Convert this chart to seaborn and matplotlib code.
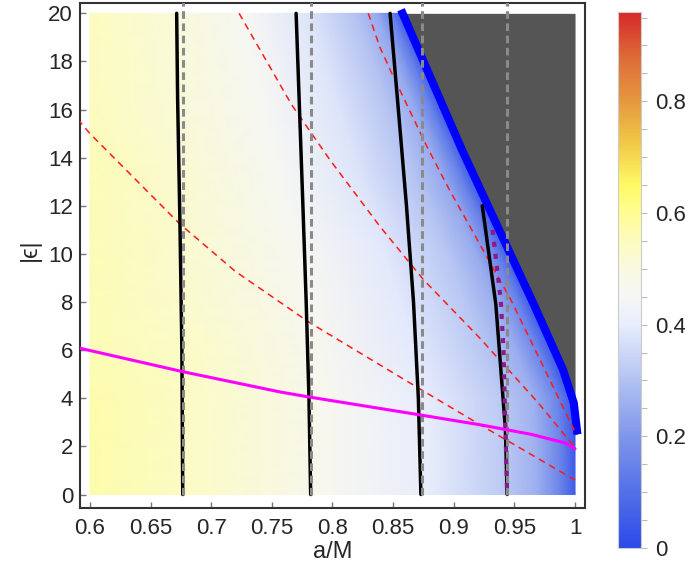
import numpy as np
import seaborn as sns
import matplotlib.pyplot as plt
from matplotlib.colors import LinearSegmentedColormap
from matplotlib.ticker import MultipleLocator

# ---- data ----
# density values, rows = |eps| levels, columns = fraction of the way from a/M=0.6 to the boundary
field_eps = np.array([0, 2.5, 4, 6, 8, 10, 13, 16, 20])
field_t = np.array([0.0, 0.25, 0.5, 0.7, 0.85, 0.92, 0.97, 1.0])
field = np.array([
    [0.57, 0.53, 0.46, 0.40, 0.32, 0.26, 0.15, 0.05],
    [0.57, 0.53, 0.46, 0.40, 0.32, 0.26, 0.15, 0.04],
    [0.57, 0.53, 0.46, 0.40, 0.32, 0.26, 0.15, 0.03],
    [0.56, 0.53, 0.46, 0.39, 0.31, 0.25, 0.14, 0.03],
    [0.56, 0.52, 0.46, 0.39, 0.31, 0.25, 0.14, 0.03],
    [0.56, 0.52, 0.46, 0.39, 0.31, 0.25, 0.14, 0.03],
    [0.56, 0.52, 0.45, 0.38, 0.30, 0.24, 0.13, 0.03],
    [0.55, 0.51, 0.45, 0.38, 0.30, 0.24, 0.13, 0.03],
    [0.55, 0.51, 0.45, 0.38, 0.30, 0.24, 0.13, 0.03],
])

# excluded region boundary (thick blue line)
bnd_a = np.array([0.8565, 0.907, 0.966, 0.990, 0.999, 1.002])
bnd_eps = np.array([20.15, 14.3, 7.9, 5.2, 3.8, 2.5])

# black curves
black_1_a = [0.6715, 0.6723, 0.6742, 0.6758, 0.6765]
black_1_eps = [20, 16.4, 11.3, 6.0, 0]
black_2_a = [0.7700, 0.7728, 0.7756, 0.7783, 0.7806, 0.782]
black_2_eps = [20, 16, 12, 8, 4, 0]
black_3_a = [0.8475, 0.8543, 0.8610, 0.8668, 0.8708, 0.8729]
black_3_eps = [20, 16, 12, 8, 4, 0]
black_4_a = [0.9235, 0.9347, 0.9426, 0.944]
black_4_eps = [12.0, 7.9, 2.7, 0]

# grey dashed verticals
grey_a = [0.677, 0.782, 0.8734, 0.9438]

# red dashed curves
red_1_a = [0.59, 0.6, 0.674, 0.72, 0.781, 0.871, 0.92, 1.0]
red_1_eps = [15.6, 15.0, 11.25, 9.27, 7.15, 4.42, 2.95, 0.6]
red_2_a = [0.723, 0.7663, 0.798, 0.839, 0.8748, 0.9215, 0.9693, 1.0]
red_2_eps = [20, 16.2, 13.9, 11.15, 8.94, 6.5, 3.83, 1.95]
red_3_a = [0.8295, 0.839, 0.8487, 0.8775, 0.896, 0.947, 1.0]
red_3_eps = [20, 18.6, 17.53, 14.5, 12.7, 8.1, 2.6]

# magenta curve
mag_a = [0.59, 0.677, 0.757, 0.781, 0.872, 0.9215, 0.964, 0.992, 1.0]
mag_eps = [6.1, 5.1, 4.26, 4.05, 3.31, 2.9, 2.5, 2.14, 1.9]

# purple dotted curve
purple_a = [0.932, 0.9388, 0.941, 0.942, 0.944]
purple_eps = [11.0, 8.05, 6.0, 4.0, 0]

x_ticks = [0.6, 0.65, 0.7, 0.75, 0.8, 0.85, 0.9, 0.95, 1.0]
x_labels = ['0.6', '0.65', '0.7', '0.75', '0.8', '0.85', '0.9', '0.95', '1']
y_ticks = list(range(0, 21, 2))
cb_ticks = [0, 0.2, 0.4, 0.6, 0.8]
cb_labels = ['0', '0.2', '0.4', '0.6', '0.8']

# ---- style ----
sns.set_theme(style='white')
plt.rcParams['font.family'] = ['Liberation Sans', 'DejaVu Sans']

cmap = LinearSegmentedColormap.from_list('blue_white_yellow_red', [
    (0.0, (0.17, 0.29, 0.91)),
    (0.1 / 0.96, (0.33, 0.44, 0.91)),
    (0.2 / 0.96, (0.50, 0.59, 0.92)),
    (0.3 / 0.96, (0.70, 0.76, 0.95)),
    (0.4 / 0.96, (0.91, 0.93, 0.99)),
    (0.45 / 0.96, (0.965, 0.968, 0.96)),
    (0.5 / 0.96, (0.975, 0.975, 0.88)),
    (0.55 / 0.96, (0.99, 0.99, 0.75)),
    (0.6 / 0.96, (1.0, 0.99, 0.58)),
    (0.65 / 0.96, (1.0, 0.98, 0.40)),
    (0.72 / 0.96, (0.95, 0.80, 0.28)),
    (0.8 / 0.96, (0.90, 0.60, 0.25)),
    (0.88 / 0.96, (0.87, 0.42, 0.22)),
    (1.0, (0.84, 0.16, 0.16)),
])

fig = plt.figure(figsize=(6.85, 5.76), dpi=100)
ax = fig.add_axes([0.1168, 0.1181, 0.7372, 0.8767])
cax = fig.add_axes([0.9022, 0.0486, 0.0336, 0.9306])

# density on a mesh that ends at the boundary
edge = np.minimum(np.interp(field_eps, bnd_eps[::-1], bnd_a[::-1]), 1.0)
X = 0.6 + np.outer(edge - 0.6, field_t)
Y = np.repeat(field_eps[:, None], len(field_t), axis=1)
mesh = ax.pcolormesh(X, Y, field, shading='gouraud', cmap=cmap, vmin=0, vmax=0.96, zorder=1)

# excluded region
ax.fill_betweenx(np.minimum(bnd_eps, 20), bnd_a, 1.0, color='#555555', lw=0, zorder=2)
sns.lineplot(x=bnd_a, y=bnd_eps, sort=False, estimator=None, color='#0000ff', lw=5.8,
             solid_capstyle='butt', zorder=4, ax=ax)

for xs, ys in [(red_1_a, red_1_eps), (red_2_a, red_2_eps), (red_3_a, red_3_eps)]:
    sns.lineplot(x=xs, y=ys, sort=False, estimator=None, color='#ff1a1a', lw=1.1,
                 linestyle=(0, (4.4, 3.3)), zorder=5, ax=ax)

for xs, ys in [(black_1_a, black_1_eps), (black_2_a, black_2_eps),
               (black_3_a, black_3_eps), (black_4_a, black_4_eps)]:
    sns.lineplot(x=xs, y=ys, sort=False, estimator=None, color='black', lw=2.5, zorder=6, ax=ax)

for a in grey_a:
    sns.lineplot(x=[a, a], y=[0, 20.5], sort=False, estimator=None, color='#8a8a8a', lw=2.2,
                 linestyle=(0, (2.5, 1.5)), zorder=7, ax=ax)

sns.lineplot(x=purple_a, y=purple_eps, sort=False, estimator=None, color='#8b1a8b', lw=3.0,
             linestyle=(0, (1.2, 1.7)), zorder=8, ax=ax)
sns.lineplot(x=mag_a, y=mag_eps, sort=False, estimator=None, color='#ff00ff', lw=2.2, zorder=9, ax=ax)

ax.set_xlim(0.5918, 1.0082)
ax.set_ylim(-0.56, 20.43)
ax.set_xticks(x_ticks)
ax.set_xticklabels(x_labels)
ax.set_yticks(y_ticks)
ax.tick_params(axis='x', direction='in', length=4, width=1, color='#777777', labelsize=16, pad=7,
               bottom=True, top=False)
ax.tick_params(axis='y', direction='in', length=4, width=1, color='#777777', labelsize=16, pad=5,
               left=True, right=False)
for sp in ax.spines.values():
    sp.set_color('#333333')
    sp.set_linewidth(1.5)

ax.set_xlabel('a/M', fontsize=17)
ax.xaxis.set_label_coords(0.5, -0.087)
ax.xaxis.label.set_va('center')
ax.set_ylabel('|ϵ|', fontsize=17)
ax.yaxis.set_label_coords(-0.099, 0.511)
ax.yaxis.label.set_va('center')

# colour bar
cb = fig.colorbar(mesh, cax=cax)
cb.set_ticks(cb_ticks)
cb.set_ticklabels(cb_labels)
cax.yaxis.set_minor_locator(MultipleLocator(0.05))
cax.tick_params(which='both', direction='out', color='#bbbbbb', length=4, width=0.8, labelsize=16, pad=6)
cb.outline.set_edgecolor('#cccccc')
cb.outline.set_linewidth(0.8)

fig.savefig('out.png', dpi=100)
